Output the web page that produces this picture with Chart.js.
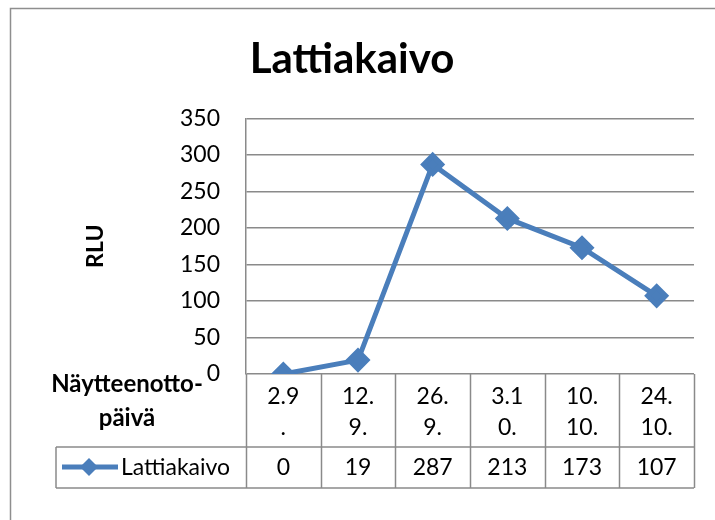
<!DOCTYPE html>
<html>
<head>
<meta charset="utf-8">
<script src="https://cdn.jsdelivr.net/npm/chart.js@4.4.1/dist/chart.umd.min.js"></script>
<style>
  html, body { margin: 0; padding: 0; background: #fff; }
  #wrap { width: 715px; height: 520px; position: relative; }
</style>
</head>
<body>
<div id="wrap"><canvas id="chart" width="715" height="520"></canvas></div>
<script>
// data
const categories = ['2.9.', '12.9.', '26.9.', '3.10.', '10.10.', '24.10.'];
const rluValues = [0, 19, 287, 213, 173, 107];
const seriesName = 'Lattiakaivo';
const chartTitle = 'Lattiakaivo';
const yTitle = 'RLU';
const rowTitle = ['Näytteenotto-', 'päivä'];

const FONT = 'Lato, "Open Sans", sans-serif';
const GRID = '#8a8a8a';
const BLUE = '#4a7ebb';

// excel wraps the narrow columns every 3 characters
function wrap3(s) {
  var out = [];
  for (var i = 0; i < s.length; i += 3) out.push(s.slice(i, i + 3));
  return out;
}

const frameAndTable = {
  id: 'frameAndTable',
  beforeDraw(chart) {
    const c = chart.ctx;
    c.save();
    c.strokeStyle = '#8e8e8e';
    c.lineWidth = 1.5;
    c.beginPath();
    c.moveTo(10.5, 600);
    c.lineTo(10.5, 8.5);
    c.lineTo(720, 8.5);
    c.stroke();
    c.restore();
  },
  afterDraw(chart) {
    const c = chart.ctx;
    const x = chart.scales.x;
    const area = chart.chartArea;
    const top = area.bottom, mid = 447, bot = 488;
    const legLeft = 56;
    const n = categories.length;
    const colW = (area.right - area.left) / n;

    c.save();
    c.strokeStyle = GRID;
    c.lineWidth = 1.5;
    c.beginPath();
    // horizontal rules
    c.moveTo(legLeft, mid); c.lineTo(area.right, mid);
    c.moveTo(legLeft, bot); c.lineTo(area.right, bot);
    c.moveTo(legLeft, mid); c.lineTo(legLeft, bot);
    // column separators
    for (var i = 0; i <= n; i++) {
      var px = Math.round(area.left + i * colW) + 0.5;
      c.moveTo(px, top); c.lineTo(px, bot);
    }
    c.stroke();

    c.fillStyle = '#000';
    c.textAlign = 'center';
    c.textBaseline = 'middle';
    c.font = '23px ' + FONT;
    categories.forEach(function (cat, i) {
      var cx = x.getPixelForValue(i);
      var lines = wrap3(cat);
      lines.forEach(function (ln, j) {
        c.fillText(ln, cx, 397 + j * 31);
      });
      c.fillText(String(rluValues[i]), cx, 468);
    });

    // row title
    c.font = 'bold 24px ' + FONT;
    c.fillText(rowTitle[0], 127, 384);
    c.fillText(rowTitle[1], 127, 418);

    // legend key
    c.strokeStyle = BLUE;
    c.lineWidth = 5;
    c.beginPath();
    c.moveTo(62, 467); c.lineTo(118, 467);
    c.stroke();
    c.fillStyle = BLUE;
    c.beginPath();
    c.moveTo(89, 458); c.lineTo(98, 467); c.lineTo(89, 476); c.lineTo(80, 467);
    c.closePath();
    c.fill();
    c.fillStyle = '#000';
    c.textAlign = 'left';
    c.font = '23px ' + FONT;
    c.fillText(seriesName, 121, 468);
    c.restore();
  }
};

new Chart(document.getElementById('chart'), {
  type: 'line',
  data: {
    labels: categories,
    datasets: [{
      label: seriesName,
      data: rluValues,
      borderColor: BLUE,
      backgroundColor: BLUE,
      borderWidth: 5,
      pointStyle: 'rectRot',
      pointRadius: 9,
      pointHoverRadius: 9,
      tension: 0
    }]
  },
  options: {
    responsive: false,
    animation: false,
    layout: { padding: { left: 10, right: 21, top: 28, bottom: 146 } },
    plugins: {
      legend: { display: false },
      tooltip: { enabled: false },
      title: {
        display: true,
        text: chartTitle,
        color: '#000',
        font: { family: FONT, size: 42, weight: 'bold' },
        padding: { top: 6, bottom: 34 }
      }
    },
    scales: {
      x: {
        display: false,
        offset: true
      },
      y: {
        min: 0,
        max: 350,
        ticks: {
          stepSize: 50,
          color: '#000',
          padding: 26,
          font: { family: FONT, size: 23 }
        },
        grid: { color: GRID, lineWidth: 1.5, drawTicks: false },
        border: { color: GRID, width: 1.5 },
        title: {
          display: true,
          text: yTitle,
          color: '#000',
          font: { family: FONT, size: 23, weight: 'bold' },
          padding: { top: 72, bottom: 0 }
        },
        afterFit: function (scale) { scale.width = 236; }
      }
    }
  },
  plugins: [frameAndTable]
});
</script>
</body>
</html>
